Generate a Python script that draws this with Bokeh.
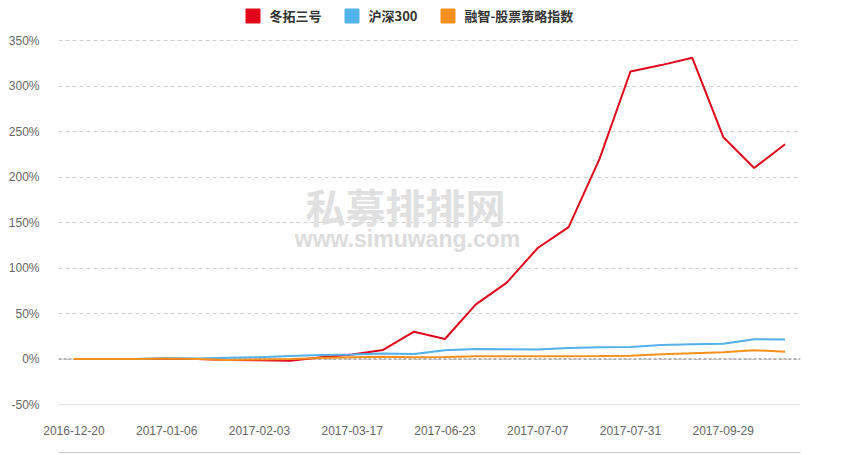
from bokeh.plotting import figure
from bokeh.models import (Range1d, FixedTicker, Span, Label, Legend, LegendItem,
                          LinearAxis, PrintfTickFormatter)
from bokeh.embed import file_html
from bokeh.resources import INLINE

# ---- data ----
names = ["冬拓三号", "沪深300", "融智-股票策略指数"]
tick_dates = ["2016-12-20", "2017-01-06", "2017-02-03", "2017-03-17",
              "2017-06-23", "2017-07-07", "2017-07-31", "2017-09-29"]
tick_pos = [0, 3, 6, 9, 12, 15, 18, 21]
red = [0, 0, 0, 0, 0, -1, -1.5, -2, 2, 5, 10, 30, 22, 60, 84, 122, 145,
       220, 316, 323, 331, 244, 210, 236]
blue = [0, 0, 0, 1, 0.5, 1.5, 2, 3.3, 4.4, 5, 6, 5.5, 9.5, 11, 10.7, 10.4,
        12.2, 13, 13.3, 15.5, 16.3, 16.7, 21.8, 21.5]
orange = [0, 0, 0, 0.5, 0, -1, -0.5, 0, 1, 2, 2.5, 2, 2.2, 3, 3, 3, 3, 3.3,
          3.7, 5.2, 6.3, 7.4, 9.6, 8.1]
y_ticks = [-50, 0, 50, 100, 150, 200, 250, 300, 350]
colors = ["#e0061b", "#52b1e6", "#f7901e"]

idx = list(range(len(red)))

p = figure(width=843, height=455,
           x_range=Range1d(-0.5, len(red) - 0.5),
           y_range=Range1d(-50, 394),
           output_backend="svg", toolbar_location=None,
           min_border_left=58, min_border_right=43,
           min_border_top=0, min_border_bottom=51)
p.outline_line_color = None
p.background_fill_color = "white"
p.border_fill_color = "white"

# grid
p.xgrid.visible = False
p.ygrid.ticker = FixedTicker(ticks=y_ticks)
p.ygrid.grid_line_color = "#d0d0d0"
p.ygrid.grid_line_dash = "4 3"

# y axis
ya = p.yaxis[0]
ya.ticker = FixedTicker(ticks=y_ticks)
ya.formatter = PrintfTickFormatter(format="%d%%")
ya.axis_line_color = None
ya.major_tick_line_color = None
ya.minor_tick_line_color = None
ya.major_label_standoff = 13
ya.major_label_text_font = "Liberation Sans"
ya.major_label_text_font_size = "12px"
ya.major_label_text_color = "#666666"

# x axis
xa = p.xaxis[0]
xa.ticker = FixedTicker(ticks=tick_pos)
xa.major_label_overrides = {t: d for t, d in zip(tick_pos, tick_dates)}
xa.axis_line_color = "#e3e3e3"
xa.major_tick_line_color = None
xa.minor_tick_line_color = None
xa.major_label_standoff = 15
xa.major_label_text_font = "Liberation Sans"
xa.major_label_text_font_size = "12px"
xa.major_label_text_color = "#666666"
xa.axis_label = " "
xa.axis_label_text_font_size = "1px"
xa.axis_label_standoff = 11

# bottom rule
bx = LinearAxis(ticker=FixedTicker(ticks=[]), axis_line_color="#c8c8c8",
                major_tick_line_color=None, minor_tick_line_color=None,
                major_label_text_font_size="0px", major_label_standoff=0)
p.add_layout(bx, "below")

# zero line
p.add_layout(Span(location=0, dimension="width", line_color="#a3a3a3",
                  line_dash="3 2", line_width=1.5, level="underlay"))

# watermark
p.add_layout(Label(x=347, y=199, x_units="screen", y_units="screen",
                   text="私募排排网", text_align="center", text_baseline="middle",
                   text_font="Noto Sans CJK SC", text_font_style="bold",
                   text_font_size="40px", text_color="#e0e0e0", level="underlay"))
p.add_layout(Label(x=349, y=166, x_units="screen", y_units="screen",
                   text="www.simuwang.com", text_align="center", text_baseline="middle",
                   text_font="Liberation Sans", text_font_style="bold",
                   text_font_size="23px", text_color="#dcdcdc", level="underlay"))

# series
series = [red, blue, orange]
for s, c in zip(series, colors):
    p.line(idx, s, line_color=c, line_width=2)

# legend swatches
sw = [p.scatter(idx, s, marker="square", size=0, fill_color=c, line_color=c)
      for s, c in zip(series, colors)]
legend = Legend(items=[LegendItem(label=n, renderers=[r]) for n, r in zip(names, sw)],
                location=(176.5, 371.5), orientation="horizontal",
                glyph_width=35, glyph_height=35, label_standoff=0, spacing=12,
                padding=0, margin=0, border_line_color=None,
                background_fill_alpha=0,
                label_text_font="Noto Sans CJK SC", label_text_font_style="bold",
                label_text_font_size="13px", label_text_color="#333333")
p.add_layout(legend)

open("out.html", "w").write(file_html(p, INLINE))
